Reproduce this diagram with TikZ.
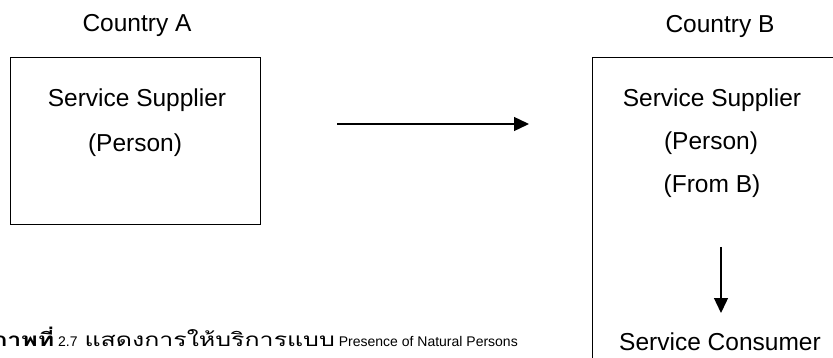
\documentclass[tikz,border=0pt]{standalone}
\usepackage{fontspec}
\setmainfont{Liberation Sans}
\newfontfamily\thaifont[Script=Thai,Scale=1.35,FakeStretch=1.32]{Loma}
\usetikzlibrary{arrows.meta}
\begin{document}
\begin{tikzpicture}[x=1pt,y=-1pt,
  lbl/.style={font=\fontsize{24.5}{29}\selectfont, inner sep=0pt, anchor=base},
  frame/.style={draw=black, line width=1.4pt, inner sep=0pt, anchor=north west},
  flow/.style={line width=1.4pt, -{Triangle[length=15pt,width=14pt]}}]
\clip (0,0) rectangle (833,358);
\useasboundingbox (0,0) rectangle (833,358);

% Country A: the supplier's box
\node[frame, minimum width=250pt, minimum height=167pt] (boxA) at (10,57) {};
\node[lbl] (countryA) at (137,32) {Country A};
\node[lbl] (supA) at (137,107) {Service Supplier};
\node[lbl] (perA) at (135,152) {(Person)};

% Country B: open box running past the right and bottom edges
\node[frame, minimum width=280pt, minimum height=340pt] (boxB) at (592,57) {};
\node[lbl] (countryB) at (720,33) {Country B};
\node[lbl] (supB) at (712,107) {Service Supplier};
\node[lbl] (perB) at (711,150) {(Person)};
\node[lbl] (fromB) at (712,193) {(From B)};
\node[lbl] (consB) at (720,350) {Service Consumer};

% movement of the supplier from A to B
\coordinate (h1) at (337,124);
\coordinate (h2) at (529,124);
\draw[flow] (h1) -- (h2);

% supply inside Country B
\coordinate (d1) at (721,247);
\coordinate (d2) at (721,313);
\draw[flow] (d1) -- (d2);

% caption
\node[font=\fontsize{14}{17}\selectfont, inner sep=0pt, anchor=base east] (cap) at (518,346)
  {{\thaifont\bfseries ภาพที่}~2.7\hspace{7pt}{\thaifont แสดงการให้บริการแบบ} Presence of Natural Persons};
\end{tikzpicture}
\end{document}
